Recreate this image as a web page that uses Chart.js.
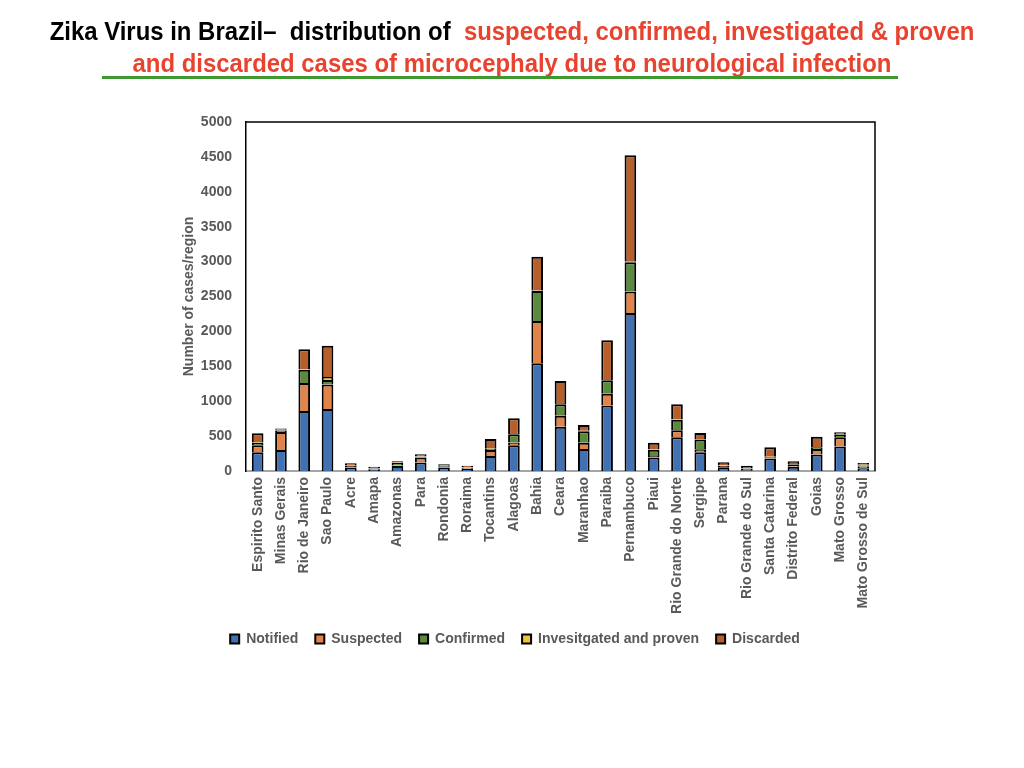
<!DOCTYPE html>
<html>
<head>
<meta charset="utf-8">
<script src="https://cdn.jsdelivr.net/npm/chart.js@4.4.0/dist/chart.umd.min.js"></script>
<style>
  html, body { margin: 0; padding: 0; background: #fff; }
  #wrap { position: relative; width: 1024px; height: 768px; overflow: hidden; }
  #chart { position: absolute; left: 0; top: 0; }
  .t { position: absolute; left: 0; width: 1024px; text-align: center; white-space: nowrap;
       font-family: "Liberation Sans Narrow", "Arial Narrow", "Liberation Sans", sans-serif;
       font-weight: bold; font-size: 26px; transform: scaleX(0.92); transform-origin: 512px 0; }
  #t1 { top: 16px; color: #000; }
  #t2 { top: 48px; color: #E8432E; }
  .red { color: #E8432E; }
  #rule { position: absolute; left: 102px; top: 76px; width: 796px; height: 3px; background: #3E972F; }
</style>
</head>
<body>
<div id="wrap">
  <canvas id="chart" width="1024" height="768"></canvas>
  <div class="t" id="t1">Zika Virus in Brazil– &nbsp;distribution of &nbsp;<span class="red">suspected, confirmed, investigated &amp; proven</span></div>
  <div class="t" id="t2">and discarded cases of microcephaly due to neurological infection</div>
  <div id="rule"></div>
</div>
<script>
// regions on the x axis
const regions = ['Espirito Santo', 'Minas Gerais', 'Rio de Janeiro', 'Sao Paulo', 'Acre', 'Amapa', 'Amazonas',
  'Para', 'Rondonia', 'Roraima', 'Tocantins', 'Alagoas', 'Bahia', 'Ceara', 'Maranhao', 'Paraiba', 'Pernambuco',
  'Piaui', 'Rio Grande do Norte', 'Sergipe', 'Parana', 'Rio Grande do Sul', 'Santa Catarina', 'Distrito Federal',
  'Goias', 'Mato Grosso', 'Mato Grosso de Sul'];

// values (cases per region)
const notified     = [270, 300, 860, 890, 50, 15, 70, 120, 50, 30, 215, 370, 1545, 635, 315, 940, 2265, 195, 485, 268, 55, 10, 180, 60, 235, 350, 40];
const suspected    = [100, 260, 400, 350, 20, 10, 10, 75, 10, 10, 85, 40, 605, 155, 90, 165, 305, 20, 100, 45, 15, 20, 10, 25, 80, 135, 20];
const confirmed    = [30, 20, 190, 65, 10, 10, 35, 10, 10, 10, 20, 115, 430, 165, 165, 195, 420, 90, 150, 140, 5, 5, 10, 10, 25, 30, 20];
const investigated = [10, 10, 5, 40, 5, 5, 5, 5, 5, 5, 10, 5, 5, 5, 5, 5, 10, 5, 5, 5, 5, 5, 5, 5, 5, 10, 10];
const discarded    = [130, 20, 290, 450, 25, 20, 20, 30, 20, 20, 130, 225, 485, 330, 85, 570, 1525, 95, 215, 85, 45, 35, 135, 38, 145, 30, 25];

const yTicks = [0, 500, 1000, 1500, 2000, 2500, 3000, 3500, 4000, 4500, 5000];

const grey = '#595959';
const labelFont = { family: 'Liberation Sans, Arial, sans-serif', size: 14, weight: 'bold' };

// frame on top and right of the plot
const frame = {
  id: 'frame',
  afterDraw(chart) {
    const a = chart.chartArea, c = chart.ctx;
    c.save();
    c.strokeStyle = '#000';
    c.lineWidth = 1.5;
    c.beginPath();
    c.moveTo(a.left, a.top);
    c.lineTo(a.right, a.top);
    c.lineTo(a.right, a.bottom);
    c.stroke();
    c.restore();
  }
};

function ds(label, data, color) {
  return { label: label, data: data, backgroundColor: color, borderColor: '#000', borderWidth: 2,
           barPercentage: 0.5, categoryPercentage: 1 };
}

new Chart(document.getElementById('chart'), {
  type: 'bar',
  data: {
    labels: regions,
    datasets: [
      ds('Notified', notified, '#4171B1'),
      ds('Suspected', suspected, '#E2844A'),
      ds('Confirmed', confirmed, '#5C8A3D'),
      ds('Invesitgated and proven', investigated, '#F4C13A'),
      ds('Discarded', discarded, '#B75F2B')
    ]
  },
  options: {
    responsive: false,
    animation: false,
    layout: { padding: { left: 155, right: 149, top: 122, bottom: 112 } },
    scales: {
      x: {
        stacked: true,
        grid: { display: false, drawTicks: false },
        border: { color: '#A6A6A6', width: 2 },
        ticks: { color: grey, font: labelFont, minRotation: 90, maxRotation: 90, autoSkip: false, padding: 6 },
        afterFit(s) { s.height = 144; }
      },
      y: {
        stacked: true,
        min: 0,
        max: 5000,
        grid: { display: false, drawTicks: false },
        border: { color: '#000', width: 1.5 },
        afterBuildTicks(s) { s.ticks = yTicks.map(v => ({ value: v })); },
        ticks: { color: grey, font: labelFont, padding: 14, callback: v => String(v) },
        title: { display: true, text: 'Number of cases/region', color: grey, font: labelFont, padding: { top: 26, bottom: 4 } },
        afterFit(s) { s.width = 91; }
      }
    },
    plugins: {
      legend: {
        position: 'bottom',
        labels: { color: grey, font: labelFont, boxWidth: 9, boxHeight: 9, padding: 17 }
      },
      tooltip: { enabled: false }
    }
  },
  plugins: [frame]
});
</script>
</body>
</html>
